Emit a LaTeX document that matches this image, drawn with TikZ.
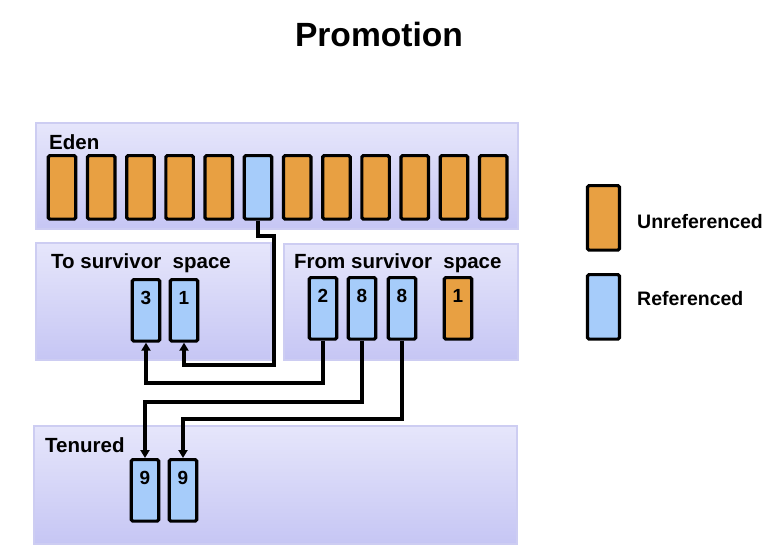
\documentclass[tikz,border=0pt]{standalone}
\usepackage{fontspec}
\setmainfont{Liberation Sans}
\usetikzlibrary{arrows.meta}
\definecolor{orangebox}{RGB}{232,160,66}
\definecolor{bluebox}{RGB}{166,204,250}
\definecolor{paneltop}{RGB}{230,230,251}
\definecolor{panelbot}{RGB}{198,198,244}
\definecolor{panelline}{RGB}{205,205,242}
\begin{document}
\begin{tikzpicture}[x=1pt,y=-1pt,
  panel/.style={draw=panelline, line width=1.5pt, top color=paneltop, bottom color=panelbot, anchor=north west, inner sep=0pt},
  cell/.style={draw=black, line width=3.2pt, rounded corners=1.5pt, minimum width=27.5pt, inner sep=0pt,
    font=\fontsize{19}{21}\selectfont\bfseries, text height=25pt, text depth=36.5pt},
  unref/.style={cell, fill=orangebox},
  refd/.style={cell, fill=bluebox},
  lbl/.style={font=\fontsize{20.5}{23}\selectfont\bfseries, inner sep=0pt, anchor=base west},
  leglbl/.style={font=\fontsize{19.5}{22}\selectfont\bfseries, inner sep=0pt, anchor=base west},
  conn/.style={line width=3.1pt, line join=miter, -{Triangle[width=9pt,length=8pt]}}
]
\useasboundingbox (0,0) rectangle (774,554);

% title
\node[font=\fontsize{33.6}{38}\selectfont\bfseries, anchor=base, inner sep=0pt] (title) at (379,46) {Promotion};

% panels
\node[panel, minimum width=482pt, minimum height=106pt] (eden) at (35,122) {};
\node[panel, minimum width=235pt, minimum height=117pt] (tosp) at (35,242) {};
\node[panel, minimum width=234pt, minimum height=116pt] (fromsp) at (283,243) {};
\node[panel, minimum width=483pt, minimum height=118pt] (tenured) at (33,425) {};

% panel labels
\node[lbl] (edenlbl) at (49,149) {Eden};
\node[lbl] (tolbl) at (51,268) {To survivor\ \ space};
\node[lbl] (fromlbl) at (294,268) {From survivor\ \ space};
\node[lbl] (tenlbl) at (45,452) {Tenured};

% Eden cells
\foreach \i in {1,...,12}{
  \pgfmathsetmacro{\cx}{62+39.2*(\i-1)}
  \ifnum\i=6
    \node[refd, text depth=38.5pt] (e\i) at (\cx,154) [anchor=north] {};
  \else
    \node[unref, text depth=38.5pt] (e\i) at (\cx,154) [anchor=north] {};
  \fi
}

% To survivor space cells
\node[refd, anchor=north] (t3) at (146,278) {3};
\node[refd, anchor=north] (t1) at (184,278) {1};

% From survivor space cells
\node[refd, anchor=north] (f2) at (323,276) {2};
\node[refd, anchor=north] (f8a) at (362,276) {8};
\node[refd, anchor=north] (f8b) at (402,276) {8};
\node[unref, anchor=north] (f1) at (458,276) {1};

% Tenured cells
\node[refd, anchor=north] (n9a) at (145,458) {9};
\node[refd, anchor=north] (n9b) at (183,458) {9};

% Legend
\node[unref, minimum width=32pt, text height=30pt, text depth=34.5pt, anchor=north] (legu) at (603.5,184) {};
\node[refd, minimum width=32pt, text height=30pt, text depth=34.5pt, anchor=north] (legr) at (603.5,273) {};
\node[leglbl] (legulbl) at (637,228) {Unreferenced};
\node[leglbl] (legrlbl) at (637,305) {Referenced};

% connectors
\draw[conn] (e6.south) |- (274,236) |- (t1.south |- 0,365) -- (t1.south);
\draw[conn] (f2.south) |- (t3.south |- 0,383) -- (t3.south);
\draw[conn] (f8a.south) |- (n9a.north |- 0,402) -- (n9a.north);
\draw[conn] (f8b.south) |- (n9b.north |- 0,419) -- (n9b.north);
\end{tikzpicture}
\end{document}
